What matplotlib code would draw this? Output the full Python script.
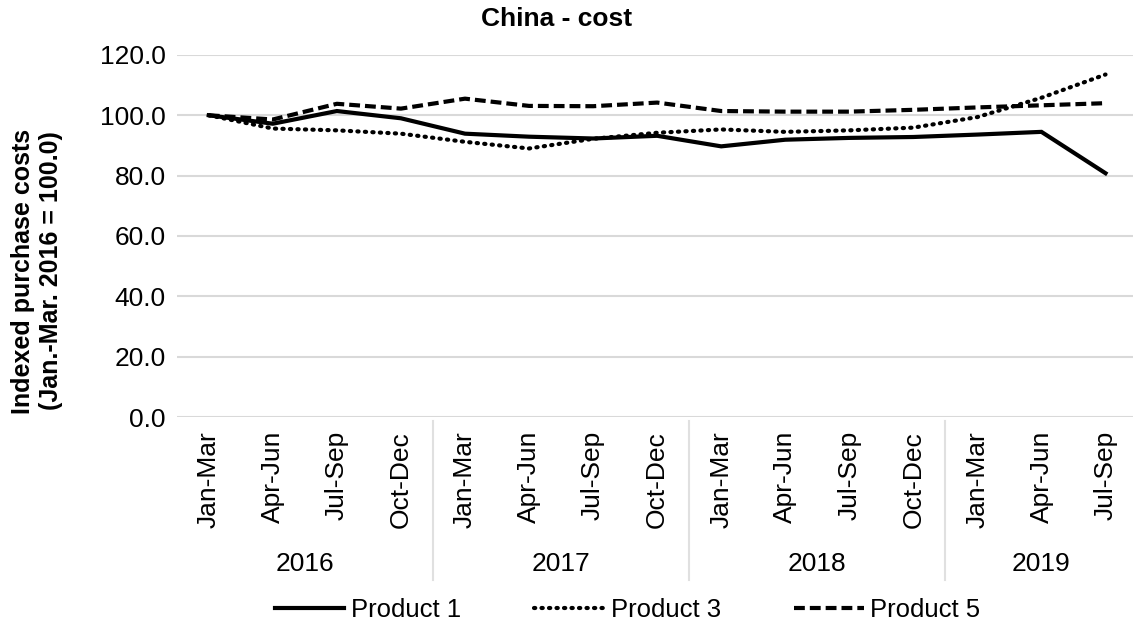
import matplotlib
matplotlib.use("Agg")
import matplotlib.pyplot as plt
import matplotlib.transforms as mtransforms

plt.rcParams['font.family'] = ['Liberation Sans', 'DejaVu Sans']

quarters = ["Jan-Mar", "Apr-Jun", "Jul-Sep", "Oct-Dec"] * 3 + ["Jan-Mar", "Apr-Jun", "Jul-Sep"]
years = ["2016", "2017", "2018", "2019"]
year_counts = [4, 4, 4, 3]

product1 = [100.0, 97.2, 101.4, 99.0, 93.9, 92.9, 92.3, 93.2, 89.7, 91.9, 92.5, 92.8, 93.6, 94.5, 80.8]
product3 = [100.0, 95.6, 95.0, 93.9, 91.2, 89.0, 92.2, 94.2, 95.3, 94.5, 95.0, 95.9, 99.4, 105.8, 113.5]
product5 = [100.0, 98.6, 103.8, 102.2, 105.5, 103.1, 103.0, 104.2, 101.4, 101.2, 101.2, 101.8, 102.6, 103.3, 104.0]

yticks = [0, 20, 40, 60, 80, 100, 120]

fig = plt.figure(figsize=(11.33, 6.31), dpi=100)
ax = fig.add_axes([0.156, 0.339, 0.848, 0.574])

x = list(range(len(quarters)))
ax.plot(x, product1, color='black', lw=3.0, solid_joinstyle='miter', label='Product 1')
ax.plot(x, product3, color='black', lw=3.0, linestyle=(0, (0.3, 1.5)), dash_capstyle='round', label='Product 3')
ax.plot(x, product5, color='black', lw=3.0, linestyle=(0, (2.6, 1.2)), label='Product 5')

ax.set_xlim(-0.5, len(quarters) - 0.5)
ax.set_ylim(0, 120)
ax.set_yticks(yticks)
ax.set_yticklabels([f"{v:.1f}" for v in yticks], fontsize=19)
ax.set_xticks(x)
ax.set_xticklabels(quarters, rotation=90, fontsize=19)
ax.tick_params(axis='both', length=0)
ax.tick_params(axis='x', pad=10)
ax.tick_params(axis='y', pad=8)
ax.grid(axis='y', color='#d9d9d9', lw=1.5)
ax.set_axisbelow(True)
for s in ax.spines.values():
    s.set_visible(False)

trans = mtransforms.blended_transform_factory(ax.transData, ax.transAxes)
start = 0
for yr, n in zip(years, year_counts):
    center = start + (n - 1) / 2
    ax.text(center, -0.405, yr, transform=trans, ha='center', va='center', fontsize=19)
    if start > 0:
        ax.plot([start - 0.5, start - 0.5], [-0.01, -0.45], transform=trans, color='#e0e0e0', lw=1.5, clip_on=False)
    start += n

fig.text(0.491, 1 - 19 / 631, "China - cost", fontsize=19, fontweight='bold', ha='center', va='center')
fig.text(0.033, 1 - 271 / 631, "Indexed purchase costs\n(Jan.-Mar. 2016 = 100.0)", fontsize=18,
         fontweight='bold', rotation=90, ha='center', va='center', linespacing=1.2)

leg = fig.legend(loc='center', bbox_to_anchor=(0.554, 0.033), ncol=3, frameon=False, fontsize=18.5,
                 handlelength=2.7, handletextpad=0.27, columnspacing=2.85)

fig.savefig("out.png", dpi=100)
